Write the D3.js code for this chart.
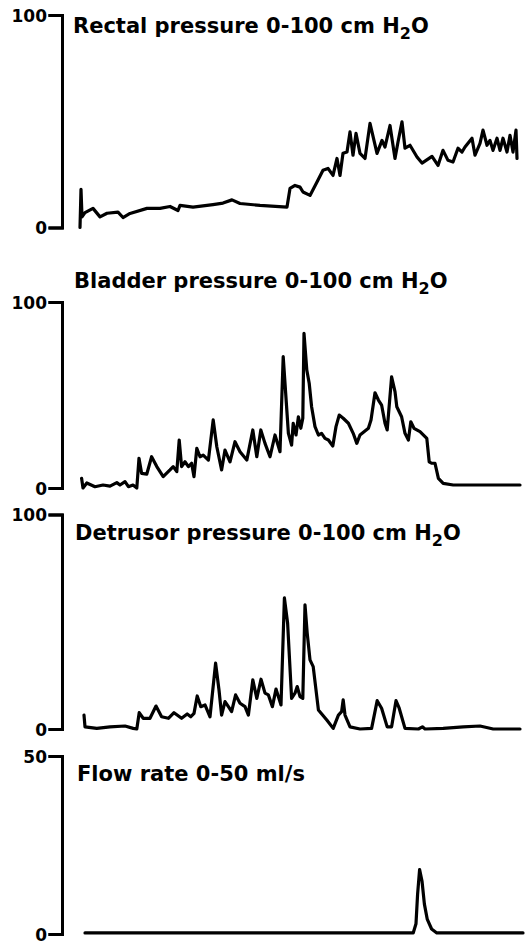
<!DOCTYPE html>
<html>
<head>
<meta charset="utf-8">
<script src="https://cdn.jsdelivr.net/npm/d3@7"></script>
<style>
  html, body { margin: 0; padding: 0; background: #fff; }
  svg { display: block; }
  .trace { fill: none; stroke: #000; stroke-width: 3.2; stroke-linejoin: round; stroke-linecap: round; }
  .axis path, .axis line { stroke: #000; stroke-width: 3; stroke-linecap: square; }
  .axis text { font-family: "DejaVu Sans", sans-serif; font-weight: bold; font-size: 17px; fill: #000; }
  .title { font-family: "DejaVu Sans", sans-serif; font-weight: bold; font-size: 21px; fill: #000; }
</style>
</head>
<body>
<svg id="chart" width="526" height="945"></svg>
<script>
// time is in arbitrary units (the recording has no time axis)
var rectalTime = [0, 0.25, 0.5, 1.25, 3.25, 5, 6.75, 9.5, 10.75, 12.5, 16.75, 20, 22.5, 24.5, 25, 28.25,
  33.25, 35.75, 38, 40, 45, 51.75, 52.5, 53.75, 55, 55.75, 57.5, 59.25, 60.75, 62, 63.25, 64.25, 65,
  65.75, 66.75, 67.5, 68.25, 69, 70, 71.25, 72.5, 74.25, 75.5, 76.25, 77.5, 78.75, 79.5, 80.5, 81.25,
  82.5, 84.25, 85.5, 88, 89.5, 90.75, 92, 93.25, 94.5, 95.5, 96.25, 98, 98.75, 100, 100.75, 101.75,
  102.5, 103.25, 104.25, 105, 105.75, 106.75, 107.5, 108.25, 109, 109.25];
var rectalValue = [0, 18, 5, 7, 9, 5, 6.7, 7.2, 4.7, 6.6, 9, 9, 9.9, 8, 10.4, 9.6,
  10.8, 11.5, 13, 11.3, 10.4, 9.6, 18.4, 19.8, 19, 16.7, 15.1, 21.4, 26.9, 27.8, 24.5, 32.5, 24.5,
  34.9, 35.5, 45, 34, 44.3, 34.9, 32.5, 49, 34.9, 41, 37.9, 48, 32.5, 40.2, 49.7, 37.3,
  38.7, 33.2, 30.3, 33.5, 29.2, 36.3, 31.6, 30.8, 37.3, 35.5, 37.9, 42, 34, 39.6, 45.8, 38.7,
  41, 36.3, 42, 36.3, 42, 35.5, 43.4, 35.5, 45.8, 32.5];

var bladderTime = [0.4, 0.75, 1.7, 3.75, 5.75, 7.5, 9.2, 10, 11.25, 12.1, 13.25, 14.2, 14.75, 15.4,
  16.7, 17.9, 19.2, 20.8, 22.5, 23.3, 24.2, 24.8, 25.4, 26.25, 27.1, 27.9, 28.5, 29.2, 30, 30.8,
  32.1, 33.3, 34.2, 35.4, 36.25, 37.5, 38.75, 40, 41.7, 43.2, 44.2, 45.2, 46.25, 47.5, 48.75, 50,
  50.8, 52.1, 52.9, 53.3, 54, 54.6, 55.2, 55.7, 56, 56.7, 57.3, 57.9, 58.75, 59.6, 60.4, 61.25,
  62.1, 63.2, 64, 64.8, 65.8, 67.1, 68.3, 69.2, 70, 72.1, 72.75, 73.75, 74.6, 75.4, 76.25, 76.8,
  77.9, 78.75, 79.2, 80.4, 81.25, 82.1, 82.7, 83.5, 85, 86.7, 87.3, 87.9, 88.75, 89.6, 90.8, 93.3, 110];
var bladderValue = [5.2, 0, 2.7, 0.7, 1.6, 1, 2.9, 1.6, 3.4, 0.7, 1.6, 0, 16, 7.9,
  7.5, 16.8, 11.5, 6.1, 9.7, 11.5, 8.8, 25.8, 11.5, 14.1, 11.5, 13.3, 6.1, 21.3, 16.8, 17.7,
  15, 36.6, 22.2, 9.7, 20.4, 14.1, 24.9, 19.5, 15, 31.2, 16.8, 31.2, 24, 16.8, 28.5, 19.5,
  70.6, 29.4, 23.1, 34.8, 28.5, 38.3, 32.1, 37.5, 83.2, 63.4, 56.3, 43.7, 33, 28.5, 29.4, 26.7,
  25.8, 22.6, 33, 39.2, 37.5, 34.8, 29.4, 24, 28.5, 32.1, 36.6, 51.2, 47.3, 44.6, 34.8, 31.2,
  59.8, 51.8, 43.7, 38.3, 29.4, 25.8, 35.6, 32.1, 30.3, 26.7, 14.1, 13.3, 13.3, 5.2, 2.5, 1.6, 1.6];

var detrusorTime = [1, 1.25, 4.2, 7.5, 11.25, 13.3, 14.2, 14.8, 15.8, 17.5, 19, 20.4, 22.1, 23.5,
  25.4, 26.8, 27.7, 28.5, 29.3, 30.2, 31.25, 32.5, 33.9, 34.75, 35.4, 36.25, 37.1, 37.9, 38.9, 40,
  41.25, 42.1, 43.2, 44.2, 45.25, 46.25, 47.1, 48.1, 49, 50.25, 51.1, 51.9, 52.9, 53.75, 54.3, 55,
  55.7, 56.25, 56.8, 57.5, 58.3, 59.6, 61.7, 63.3, 64.6, 65.4, 65.8, 66.25, 67.5, 70, 72.9, 74.3,
  75.4, 76.8, 77.9, 79, 79.8, 81.25, 84.6, 85.6, 86.25, 90.8, 95.8, 100, 103.3, 110];
var detrusorValue = [6.5, 1, 0.3, 1, 1.4, 0.3, 0, 7.6, 5, 5, 10.7, 5.7, 5, 7.6,
  5, 7, 5.7, 7.3, 15.4, 10.4, 11.2, 5.7, 30.7, 18.2, 6.5, 12.8, 10.4, 8.1, 15.9, 12,
  10.4, 6.5, 22.9, 14.3, 23.2, 16.7, 15.9, 10.4, 18.6, 11.2, 61.1, 49.4, 14.3, 16.7, 19.8, 15.1,
  14.3, 57.9, 44.7, 32.2, 29.1, 8.9, 4.2, 0.3, 6.5, 8.1, 13.6, 6.5, 1, 0, 0.3, 13.2,
  9.7, 1, 1, 13.2, 9.7, 0.3, 0, 1, 0, 0.3, 1, 1.4, 0, 0];

var flowTime = [1.25, 83.3, 84, 84.4, 84.9, 85.5, 86.1, 86.8, 87.9, 89.2, 110.75];
var flowValue = [0.3, 0.3, 2.9, 11.2, 18.1, 14.9, 8.4, 4.2, 1.4, 0.3, 0.3];

var panelTitles = [
  ["Rectal pressure 0-100 cm H", "2", "O"],
  ["Bladder pressure 0-100 cm H", "2", "O"],
  ["Detrusor pressure 0-100 cm H", "2", "O"],
  ["Flow rate 0-50 ml/s", "", ""]
];
var panelMax = [100, 100, 100, 50];
var panelTicks = [[0, 100], [0, 100], [0, 100], [0, 50]];

var panels = [
  {time: rectalTime, value: rectalValue, top: 15, bottom: 227.5, titleX: 73, titleY: 33},
  {time: bladderTime, value: bladderValue, top: 302, bottom: 488, titleX: 74, titleY: 288},
  {time: detrusorTime, value: detrusorValue, top: 514.5, bottom: 729, titleX: 75, titleY: 540},
  {time: flowTime, value: flowValue, top: 756, bottom: 934, titleX: 77, titleY: 781}
];

var svg = d3.select("#chart");
var axisX = 62;
var x = d3.scaleLinear().domain([0, 110]).range([80, 520]);

panels.forEach(function(p, i) {
  var y = d3.scaleLinear().domain([0, panelMax[i]]).range([p.bottom, p.top]);
  var pts = p.time.map(function(t, k) { return [t, p.value[k]]; });

  var line = d3.line()
    .x(function(d) { return x(d[0]); })
    .y(function(d) { return y(d[1]); });

  svg.append("path")
    .datum(pts)
    .attr("class", "trace")
    .attr("d", line);

  // the bracket-like scale bar on the left
  var ax = svg.append("g")
    .attr("class", "axis")
    .attr("transform", "translate(" + axisX + ",0)")
    .call(d3.axisLeft(y).tickValues(panelTicks[i]).tickSizeOuter(0).tickSize(12).tickPadding(3)
      .tickFormat(d3.format("d")));
  ax.selectAll("text").attr("dy", "0.36em");

  var t = svg.append("text")
    .attr("class", "title")
    .attr("x", p.titleX)
    .attr("y", p.titleY);
  t.append("tspan").text(panelTitles[i][0]);
  if (panelTitles[i][1]) {
    t.append("tspan").attr("dy", 6).attr("font-size", 16).text(panelTitles[i][1]);
    t.append("tspan").attr("dy", -6).text(panelTitles[i][2]);
  }
});
</script>
</body>
</html>
